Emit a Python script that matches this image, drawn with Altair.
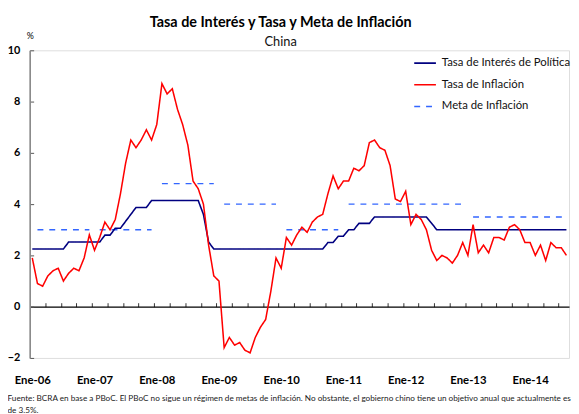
import altair as alt
import pandas as pd

# ---------------- data ----------------
series = ["Tasa de Interés de Política", "Tasa de Inflación", "Meta de Inflación"]
colores = ["#000080", "#FF0000", "#3366FF"]

anios = [2006, 2007, 2008, 2009, 2010, 2011, 2012, 2013, 2014]
etiquetas_x = ["Ene-06", "Ene-07", "Ene-08", "Ene-09", "Ene-10",
               "Ene-11", "Ene-12", "Ene-13", "Ene-14"]
ultimo_mes = "2014-08"

inflacion = [
    1.9, 0.9, 0.8, 1.2, 1.4, 1.5, 1.0, 1.3, 1.5, 1.4, 1.9, 2.8,
    2.2, 2.7, 3.3, 3.0, 3.4, 4.4, 5.6, 6.5, 6.2, 6.5, 6.9, 6.5,
    7.1, 8.7, 8.3, 8.5, 7.7, 7.1, 6.3, 4.9, 4.6, 4.0, 2.4, 1.2,
    1.0, -1.6, -1.2, -1.5, -1.4, -1.7, -1.8, -1.2, -0.8, -0.5, 0.6, 1.9,
    1.5, 2.7, 2.4, 2.8, 3.1, 2.9, 3.3, 3.5, 3.6, 4.4, 5.1, 4.6,
    4.9, 4.9, 5.4, 5.3, 5.5, 6.4, 6.5, 6.2, 6.1, 5.5, 4.2, 4.1,
    4.5, 3.2, 3.6, 3.4, 3.0, 2.2, 1.8, 2.0, 1.9, 1.7, 2.0, 2.5,
    2.0, 3.2, 2.1, 2.4, 2.1, 2.7, 2.7, 2.6, 3.1, 3.2, 3.0, 2.5,
    2.5, 2.0, 2.4, 1.8, 2.5, 2.3, 2.3, 2.0,
]

tasa_politica = [
    2.25, 2.25, 2.25, 2.25, 2.25, 2.25, 2.25, 2.52, 2.52, 2.52, 2.52, 2.52,
    2.52, 2.52, 2.79, 2.79, 3.06, 3.06, 3.33, 3.60, 3.87, 3.87, 3.87, 4.14,
    4.14, 4.14, 4.14, 4.14, 4.14, 4.14, 4.14, 4.14, 4.14, 3.60, 2.52, 2.25,
    2.25, 2.25, 2.25, 2.25, 2.25, 2.25, 2.25, 2.25, 2.25, 2.25, 2.25, 2.25,
    2.25, 2.25, 2.25, 2.25, 2.25, 2.25, 2.25, 2.25, 2.25, 2.50, 2.50, 2.75,
    2.75, 3.00, 3.00, 3.25, 3.25, 3.25, 3.50, 3.50, 3.50, 3.50, 3.50, 3.50,
    3.50, 3.50, 3.50, 3.50, 3.50, 3.25, 3.00, 3.00, 3.00, 3.00, 3.00, 3.00,
    3.00, 3.00, 3.00, 3.00, 3.00, 3.00, 3.00, 3.00, 3.00, 3.00, 3.00, 3.00,
    3.00, 3.00, 3.00, 3.00, 3.00, 3.00, 3.00, 3.00,
]

meta_desde = ["2006-02", "2007-02", "2008-02", "2009-02", "2010-02", "2011-02", "2013-02"]
meta_hasta = ["2006-12", "2007-12", "2008-12", "2009-12", "2010-12", "2012-12", "2014-08"]
meta_valor = [3.0, 3.0, 4.8, 4.0, 3.0, 4.0, 3.5]

nota = ["Fuente: BCRA en base a PBoC. El PBoC no sigue un régimen de metas de inflación. "
        "No obstante, el gobierno chino tiene un objetivo anual que actualmente es",
        "de 3.5%."]


def indice(mes):
    a, m = mes.split("-")
    return (int(a) - anios[0]) * 12 + int(m) - 1


n_meses = indice(ultimo_mes) + 1

filas = []
for i in range(n_meses):
    filas.append({"idx": i, "valor": tasa_politica[i], "serie": series[0], "tramo": "p"})
    filas.append({"idx": i, "valor": inflacion[i], "serie": series[1], "tramo": "i"})
for k, (d, h, v) in enumerate(zip(meta_desde, meta_hasta, meta_valor)):
    for i in range(indice(d), indice(h) + 1):
        filas.append({"idx": i, "valor": v, "serie": series[2], "tramo": f"m{k}"})
df = pd.DataFrame(filas)

pos_etiquetas = [indice(f"{a}-01") for a in anios]
marcas_trimestre = [i - 0.5 for i in range(3, n_meses, 3)]
label_expr = "[" + ",".join(f"'{e}'" for e in etiquetas_x) + "][round(datum.value/12)]"

# ---------------- layout ----------------
W, H = 547, 312
YMIN, YMAX = -2, 10
FONT = "Lato"
zero_offset = -H * (YMAX - 0) / (YMAX - YMIN)

xscale = alt.Scale(domain=[-0.5, n_meses - 0.5], nice=False, zero=False)
yscale = alt.Scale(domain=[YMIN, YMAX], nice=False, zero=False)

leyenda = alt.Legend(
    title=None, orient="none", legendX=389, legendY=1, padding=0,
    symbolType="stroke", symbolSize=484, labelFont=FONT, labelFontSize=11.5,
    labelColor="#111111", labelOffset=5, rowPadding=4, labelLimit=300,
)
enc_common = dict(
    color=alt.Color("serie:N", scale=alt.Scale(domain=series, range=colores), legend=leyenda),
    strokeDash=alt.StrokeDash("serie:N", scale=alt.Scale(domain=series, range=[[1, 0], [1, 0], [6, 6]]), legend=leyenda),
    strokeWidth=alt.StrokeWidth("serie:N", scale=alt.Scale(domain=series, range=[1.6, 1.5, 3.4]), legend=leyenda),
)

eje_x_abajo = alt.Axis(
    values=pos_etiquetas, labelExpr=label_expr, ticks=False, tickSize=0, domain=False, grid=False,
    labelFont=FONT, labelFontWeight="bold", labelFontSize=11.5, labelColor="#000000",
    labelPadding=17, labelFlush=False,
    title=nota, titleFont=FONT, titleFontSize=8.3, titleFontWeight="normal", titleColor="#222222",
    titleAnchor="start", titleAlign="left", titleX=-23, titleY=43, titleBaseline="alphabetic",
    titleLineHeight=12, titleLimit=1000,
)
eje_x_cero = alt.Axis(
    orient="top", offset=zero_offset, values=marcas_trimestre, labels=False, ticks=True,
    tickSize=4, tickColor="#333333", tickWidth=1, domain=True, domainColor="#000000",
    domainWidth=1.2, grid=False, title=None,
)
eje_y_izq = alt.Axis(
    values=list(range(YMIN, YMAX + 1, 2)), ticks=False, tickSize=0, domain=False, grid=False,
    labelFont=FONT, labelFontWeight="bold", labelFontSize=11, labelColor="#000000",
    labelPadding=10, title="%", titleAngle=0, titleX=0, titleY=-10, titleAlign="center",
    titleBaseline="bottom", titleFont=FONT, titleFontSize=9, titleFontWeight="normal",
)
eje_y_linea = alt.Axis(
    orient="right", offset=-W, values=list(range(YMIN, YMAX + 1, 2)), labels=False,
    ticks=True, tickSize=4, tickColor="#555555", tickWidth=1, domain=True,
    domainColor="#888888", domainWidth=1.6, grid=False, title=None,
)

base = alt.Chart(df)

capa_meta = base.transform_filter(alt.datum.serie == series[2]).mark_line().encode(
    x=alt.X("idx:Q", scale=xscale, axis=eje_x_abajo),
    y=alt.Y("valor:Q", scale=yscale, axis=eje_y_izq),
    detail="tramo:N", **enc_common,
)
capa_politica = base.transform_filter(alt.datum.serie == series[0]).mark_line().encode(
    x=alt.X("idx:Q", scale=xscale, axis=eje_x_cero),
    y=alt.Y("valor:Q", scale=yscale, axis=eje_y_linea),
    **enc_common,
)
capa_inflacion = base.transform_filter(alt.datum.serie == series[1]).mark_line().encode(
    x=alt.X("idx:Q", scale=xscale, axis=None),
    y=alt.Y("valor:Q", scale=yscale, axis=None),
    **enc_common,
)

chart = alt.layer(capa_meta, capa_politica, capa_inflacion).resolve_axis(
    x="independent", y="independent"
).properties(
    width=W, height=H,
    padding={"left": 22, "top": 40, "right": 2, "bottom": 58},
    autosize=alt.AutoSizeParams(type="none"),
    title=alt.TitleParams(
        text="Tasa de Interés y Tasa y Meta de Inflación", subtitle="China",
        anchor="middle", dx=-19, offset=-18, font=FONT, fontSize=14.6, fontWeight="bold",
        color="#000000", subtitleFont=FONT, subtitleFontSize=13, subtitleColor="#111111",
        subtitlePadding=7,
    ),
).configure_view(stroke=None).configure(background="white")

chart.save("out.html", embed_options={"renderer": "svg", "actions": False})
